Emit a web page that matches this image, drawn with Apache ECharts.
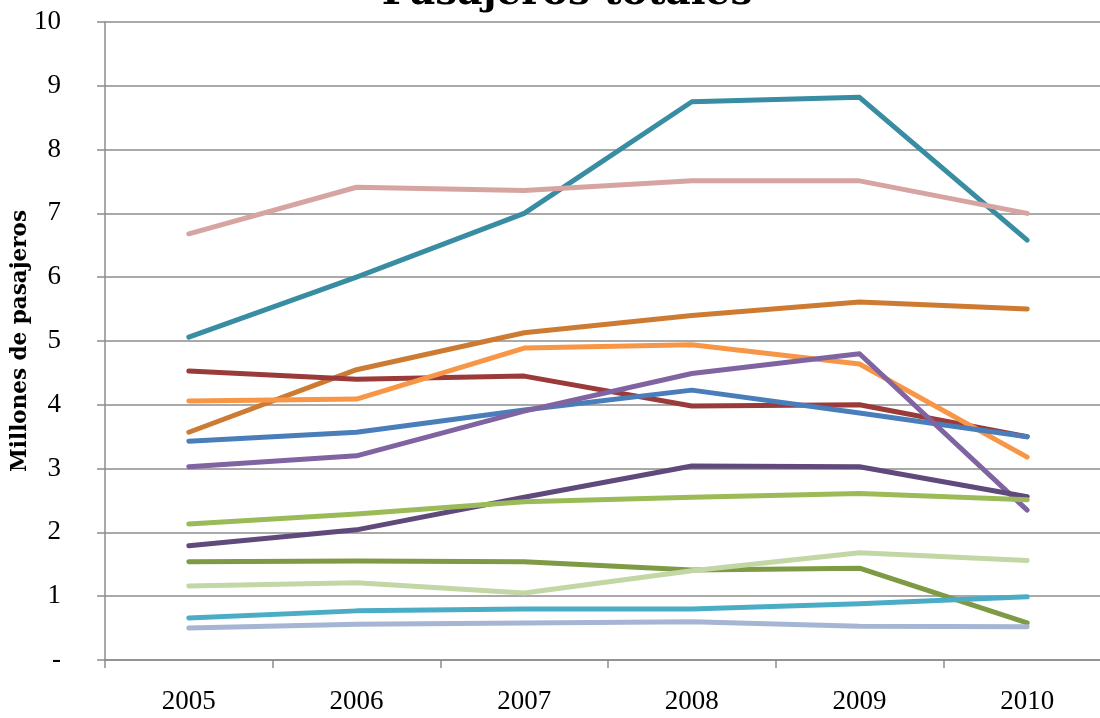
<!DOCTYPE html>
<html>
<head>
<meta charset="utf-8">
<script src="https://cdn.jsdelivr.net/npm/echarts@6/dist/echarts.min.js"></script>
<style>
  html, body { margin: 0; padding: 0; background: #fff; }
  #chart { width: 1100px; height: 718px; }
</style>
</head>
<body>
<div id="chart"></div>
<script>
// Passenger totals (millions) per year, one array per series
const years = ['2005', '2006', '2007', '2008', '2009', '2010'];
const yTickLabels = ['-', '1', '2', '3', '4', '5', '6', '7', '8', '9', '10'];

const serieA = [5.06, 6.00, 7.00, 8.75, 8.82, 6.58];
const serieB = [6.68, 7.41, 7.36, 7.51, 7.51, 7.00];
const serieC = [3.57, 4.55, 5.13, 5.40, 5.61, 5.50];
const serieD = [4.53, 4.40, 4.45, 3.98, 4.00, 3.50];
const serieE = [4.06, 4.09, 4.89, 4.94, 4.64, 3.18];
const serieF = [3.43, 3.57, 3.92, 4.23, 3.87, 3.50];
const serieG = [3.03, 3.20, 3.90, 4.49, 4.80, 2.35];
const serieH = [1.79, 2.04, 2.55, 3.04, 3.03, 2.56];
const serieI = [2.13, 2.29, 2.48, 2.55, 2.61, 2.51];
const serieJ = [1.54, 1.55, 1.54, 1.41, 1.44, 0.58];
const serieK = [1.16, 1.21, 1.05, 1.40, 1.68, 1.56];
const serieL = [0.66, 0.77, 0.80, 0.80, 0.88, 0.99];
const serieM = [0.50, 0.56, 0.58, 0.60, 0.53, 0.52];

const seriesList = [
  { name: 'A', data: serieA, color: '#388DA2' },
  { name: 'B', data: serieB, color: '#D6A4A1' },
  { name: 'C', data: serieC, color: '#CD7B33' },
  { name: 'D', data: serieD, color: '#9A3B39' },
  { name: 'E', data: serieE, color: '#F79646' },
  { name: 'F', data: serieF, color: '#4A7EBB' },
  { name: 'G', data: serieG, color: '#8064A2' },
  { name: 'H', data: serieH, color: '#604A7B' },
  { name: 'I', data: serieI, color: '#9BBB59' },
  { name: 'J', data: serieJ, color: '#7E9A44' },
  { name: 'K', data: serieK, color: '#C3D6A6' },
  { name: 'L', data: serieL, color: '#4BACC6' },
  { name: 'M', data: serieM, color: '#A5B5D3' }
];

const serif = '"Liberation Serif", "DejaVu Serif", serif';
const wideSerif = '"DejaVu Serif", "Liberation Serif", serif';
const axisGray = '#8c8c8c';

const chart = echarts.init(document.getElementById('chart'), null, { renderer: 'canvas' });
chart.setOption({
  animation: false,
  backgroundColor: '#ffffff',
  title: {
    text: 'Pasajeros totales',
    left: 567,
    textAlign: 'center',
    top: -26,
    padding: 0,
    textStyle: { fontFamily: wideSerif, fontWeight: 'bold', fontSize: 39, color: '#000' }
  },
  grid: { left: 105, right: -11, top: 22, bottom: 58, containLabel: false, outerBoundsMode: 'none' },
  xAxis: {
    type: 'category',
    data: years,
    boundaryGap: true,
    axisLine: { show: true, lineStyle: { color: axisGray, width: 1.5 } },
    axisTick: { show: true, length: 8, inside: false, alignWithLabel: false, lineStyle: { color: axisGray, width: 1.5 } },
    axisLabel: { margin: 28, fontFamily: serif, fontSize: 27, color: '#000' },
    splitLine: { show: false }
  },
  yAxis: {
    type: 'value',
    min: 0,
    max: 10,
    interval: 1,
    name: 'Millones de pasajeros',
    nameLocation: 'middle',
    nameGap: 74,
    nameMoveOverlap: false,
    nameTextStyle: { fontFamily: wideSerif, fontWeight: 'bold', fontSize: 21.5, color: '#000' },
    axisLine: { show: true, lineStyle: { color: axisGray, width: 1.5 } },
    axisTick: { show: true, length: 8, lineStyle: { color: axisGray, width: 1.5 } },
    axisLabel: {
      margin: 44,
      fontFamily: serif,
      fontSize: 27,
      color: '#000',
      formatter: function (v) { return yTickLabels[Math.round(v)]; }
    },
    splitLine: { show: true, lineStyle: { color: axisGray, width: 1.5 } }
  },
  series: seriesList.map(function (s) {
    return {
      name: s.name,
      type: 'line',
      data: s.data,
      showSymbol: false,
      symbol: 'none',
      lineStyle: { color: s.color, width: 5, cap: 'round', join: 'round' },
      itemStyle: { color: s.color }
    };
  })
});
</script>
</body>
</html>
